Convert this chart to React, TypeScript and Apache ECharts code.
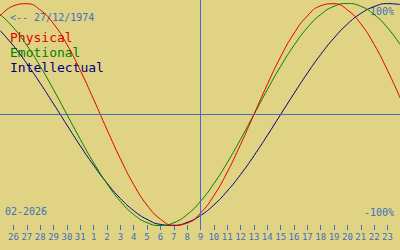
import React, { useEffect, useRef } from "react";
import * as echarts from "echarts";

// Day labels on the x axis (26 Jan .. 23 Feb 2026)
const dayLabels = [
  "26", "27", "28", "29", "30", "31", "1", "2", "3", "4", "5", "6", "7", "8", "9",
  "10", "11", "12", "13", "14", "15", "16", "17", "18", "19", "20", "21", "22", "23",
];
const tickIndex = dayLabels.map((_, i) => i);

// Day index of each sample (-1 = 25 Jan, 29 = 24 Feb), today = 14 (9 Feb)
const dayIndex = [
  -1, 0, 1, 2, 3, 4, 5, 6, 7, 8, 9, 10, 11, 12, 13, 14, 15,
  16, 17, 18, 19, 20, 21, 22, 23, 24, 25, 26, 27, 28, 29,
];
const todayIndex = 14;

const physical = [
  0.888, 0.979, 0.998, 0.942, 0.817, 0.631, 0.398, 0.136, -0.136, -0.398, -0.631,
  -0.817, -0.942, -0.998, -0.979, -0.888, -0.731, -0.52, -0.27, 0, 0.27, 0.52,
  0.731, 0.888, 0.979, 0.998, 0.942, 0.817, 0.631, 0.398, 0.136,
];
const emotional = [
  0.901, 0.782, 0.623, 0.434, 0.223, 0, -0.223, -0.434, -0.623, -0.782, -0.901,
  -0.975, -1, -0.975, -0.901, -0.782, -0.623, -0.434, -0.223, 0, 0.223, 0.434,
  0.623, 0.782, 0.901, 0.975, 1, 0.975, 0.901, 0.782, 0.623,
];
const intellectual = [
  0.756, 0.618, 0.458, 0.282, 0.095, -0.095, -0.282, -0.458, -0.618, -0.756,
  -0.866, -0.945, -0.99, -0.999, -0.972, -0.91, -0.815, -0.69, -0.541, -0.372,
  -0.189, 0, 0.189, 0.372, 0.541, 0.69, 0.815, 0.91, 0.972, 0.999, 0.99,
];

const seriesNames = ["Physical", "Emotional", "Intellectual"];
const seriesColors = ["#e00000", "#008000", "#000080"];
const birthLabel = "<-- 27/12/1974";
const monthLabel = "02-2026";
const topLabel = "100%";
const bottomLabel = "-100%";

const BLUE = "#3f6fc0";
const FONT = "DejaVu Sans Mono";

export default function App() {
  const ref = useRef<HTMLDivElement>(null);
  useEffect(() => {
    if (!ref.current) return;
    const chart = echarts.init(ref.current, null, { renderer: "svg" });
    const values = [physical, emotional, intellectual];
    chart.setOption({
      animation: false,
      backgroundColor: "#e0d384",
      grid: { left: 0, right: 0, top: 0, bottom: 25 },
      xAxis: {
        type: "value",
        min: -1.0107,
        max: 28.936,
        axisLine: { show: false, onZero: false },
        splitLine: { show: false },
        axisTick: {
          show: true,
          length: 5,
          customValues: tickIndex,
          lineStyle: { color: BLUE, width: 1 },
        },
        axisLabel: {
          margin: 7,
          color: BLUE,
          fontFamily: FONT,
          fontSize: 9,
          customValues: tickIndex,
          formatter: (v: number) => dayLabels[Math.round(v)] ?? "",
        },
      },
      yAxis: { type: "value", min: -0.9955, max: 1.0315, show: false },
      series: seriesNames.map((name, i) => ({
        name,
        type: "line",
        clip: false,
        smooth: true,
        symbol: "none",
        lineStyle: { color: seriesColors[i], width: 1 },
        data: dayIndex.map((d, j) => [d, values[i][j]]),
        z: 3 - i,
        ...(i === 0
          ? {
              markLine: {
                silent: true,
                symbol: "none",
                label: { show: false },
                lineStyle: { type: "solid", width: 1 },
                data: [
                  { xAxis: todayIndex, lineStyle: { color: "#3a70d0" } },
                  { yAxis: 0, lineStyle: { color: "#4070b0" } },
                ],
              },
            }
          : {}),
      })),
      graphic: [
        { type: "text", left: 10, top: 12, style: { text: birthLabel, fill: BLUE, font: `10px '${FONT}'` } },
        ...seriesNames.map((n, i) => ({
          type: "text",
          left: 10,
          top: 31 + i * 15,
          style: { text: n, fill: seriesColors[i], font: `13px '${FONT}'` },
        })),
        { type: "text", right: 6, top: 6, style: { text: topLabel, fill: BLUE, font: `10px '${FONT}'` } },
        { type: "text", right: 6, top: 207, style: { text: bottomLabel, fill: BLUE, font: `10px '${FONT}'` } },
        { type: "text", left: 5, top: 206, style: { text: monthLabel, fill: BLUE, font: `10px '${FONT}'` } },
      ],
    });
    return () => chart.dispose();
  }, []);
  return (
    <div
      ref={ref}
      style={{ position: "absolute", left: 0, top: 0, width: 400, height: 250 }}
    />
  );
}
